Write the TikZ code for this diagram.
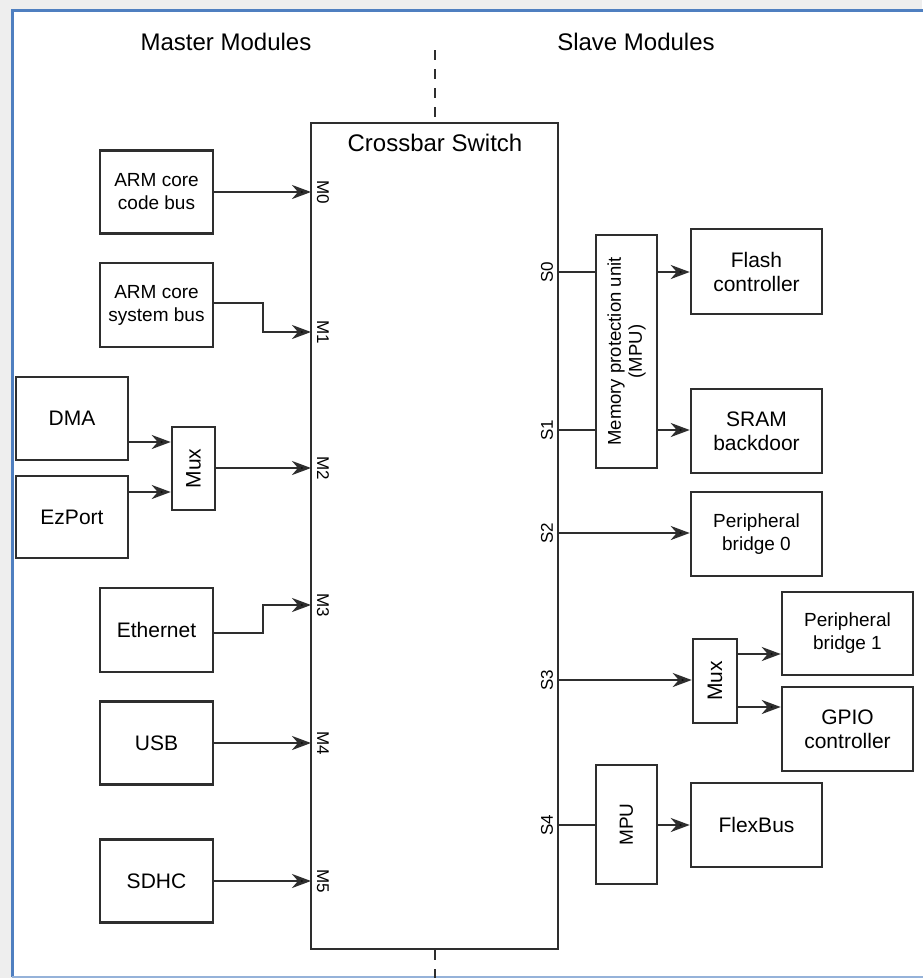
\documentclass[tikz,border=0pt]{standalone}
\usepackage{fontspec}
\setmainfont{Liberation Sans}
\usetikzlibrary{arrows.meta,calc}
\definecolor{frameblue}{HTML}{4F7FC0}
\definecolor{lnc}{HTML}{2E2E2E}
\definecolor{bgray}{HTML}{EEEEEE}
\tikzset{
  blk/.style={draw=lnc, line width=2.5pt, rectangle, inner sep=0pt, align=center, text=black},
  big/.style={font=\fontsize{21}{24}\selectfont},
  sml/.style={font=\fontsize{19}{23}\selectfont},
  conn/.style={draw=lnc, line width=2.5pt},
  arr/.style={conn, -{Stealth[length=19pt,width=14pt,inset=6pt,fill=black]}},
  plabel/.style={font=\fontsize{17}{18}\selectfont, inner sep=0pt, text=black},
  title/.style={font=\fontsize{24}{26}\selectfont, inner sep=0pt, text=black}
}
\begin{document}
\begin{tikzpicture}[x=1pt,y=-1pt]
\useasboundingbox (0,0) rectangle (922,978);
\fill[bgray] (0,0) rectangle (922,978);
\fill[white] (12,10) rectangle (930,977);
\draw[frameblue, line width=3pt] (12,977) -- (12,10) -- (930,10);
\draw[frameblue!60, line width=2pt] (12,977) -- (930,977);

% titles
\node[title] (tmaster) at (226,42) {Master Modules};
\node[title] (tslave) at (636,42) {Slave Modules};

% crossbar
\node[blk, minimum width=247pt, minimum height=826pt] (xbar) at (434.5,536) {};
\node[title, anchor=center] (xtitle) at (435,143) {Crossbar Switch};
\coordinate (dtop) at (435,50);
\coordinate (dbot) at (435,978);
\draw[conn, dash pattern=on 10pt off 9pt] (dtop) -- (dtop |- xbar.north);
\draw[conn, dash pattern=on 10pt off 9pt] (xbar.south -| dbot) -- (dbot);

% master modules
\node[blk, sml, minimum width=113pt, minimum height=83pt] (code) at (156.5,192) {ARM core\\code bus};
\node[blk, sml, minimum width=113pt, minimum height=84pt] (sys) at (156.5,305) {ARM core\\system bus};
\node[blk, big, minimum width=112pt, minimum height=83pt] (dma) at (72,418.5) {DMA};
\node[blk, big, minimum width=112pt, minimum height=82pt] (ez) at (72,517) {EzPort};
\node[blk, big, minimum width=43pt, minimum height=83pt] (mux1) at (193.5,468.5) {};
\node[big, rotate=90, inner sep=0pt] (mux1t) at (mux1.center) {Mux};
\node[blk, big, minimum width=113pt, minimum height=84pt] (eth) at (156.5,630) {Ethernet};
\node[blk, big, minimum width=113pt, minimum height=83pt] (usb) at (156.5,743) {USB};
\node[blk, big, minimum width=113pt, minimum height=83pt] (sdhc) at (156.5,881) {SDHC};

% master ports
\coordinate (m0) at (311,192);
\coordinate (m1) at (311,332);
\coordinate (m2) at (311,468);
\coordinate (m3) at (311,605);
\coordinate (m4) at (311,743);
\coordinate (m5) at (311,881);
\foreach \i in {0,...,5}{
  \node[plabel, rotate=-90] (ml\i) at ($(m\i)+(12,0)$) {M\i};
}
\draw[arr] (code.east) -- (m0);
\draw[arr] (sys.east |- 0,303) -| (263,318) |- (m1);
\draw[arr] (dma.east |- 0,442) -- (mux1.west |- 0,442);
\draw[arr] (ez.east |- 0,492) -- (mux1.west |- 0,492);
\draw[arr] (mux1.east |- m2) -- (m2);
\draw[arr] (eth.east |- 0,633) -| (263,619) |- (m3);
\draw[arr] (usb.east) -- (m4);
\draw[arr] (sdhc.east) -- (m5);

% slave modules
\node[blk, minimum width=61pt, minimum height=233pt] (mpu1) at (626.5,351.5) {};
\node[font=\fontsize{18.5}{21}\selectfont, rotate=90, align=center, inner sep=0pt] (mpu1t) at (mpu1.center) {Memory protection unit\\(MPU)};
\node[blk, big, minimum width=131pt, minimum height=85pt] (flash) at (756.5,271.5) {Flash\\controller};
\node[blk, big, minimum width=131pt, minimum height=84pt] (sram) at (756.5,431) {SRAM\\backdoor};
\node[blk, sml, minimum width=131pt, minimum height=84pt] (pb0) at (756.5,534) {Peripheral\\bridge 0};
\node[blk, minimum width=44pt, minimum height=84pt] (mux2) at (715,681) {};
\node[big, rotate=90, inner sep=0pt] (mux2t) at (mux2.center) {Mux};
\node[blk, sml, minimum width=131pt, minimum height=83pt] (pb1) at (847.5,633.5) {Peripheral\\bridge 1};
\node[blk, big, minimum width=131pt, minimum height=84pt] (gpio) at (847.5,729) {GPIO\\controller};
\node[blk, minimum width=61pt, minimum height=119pt] (mpu2) at (626.5,824.5) {};
\node[sml, rotate=90, inner sep=0pt] (mpu2t) at (mpu2.center) {MPU};
\node[blk, big, minimum width=131pt, minimum height=84pt] (flex) at (756.5,825) {FlexBus};

% slave ports
\coordinate (s0) at (558,272);
\coordinate (s1) at (558,430);
\coordinate (s2) at (558,533);
\coordinate (s3) at (558,680);
\coordinate (s4) at (558,825);
\foreach \i in {0,...,4}{
  \node[plabel, rotate=90] (sl\i) at ($(s\i)+(-11,0)$) {S\i};
}
\draw[conn] (s0) -- (mpu1.west |- s0);
\draw[conn] (s1) -- (mpu1.west |- s1);
\draw[arr] (mpu1.east |- s0) -- (flash.west |- s0);
\draw[arr] (mpu1.east |- s1) -- (sram.west |- s1);
\draw[arr] (s2) -- (pb0.west |- s2);
\draw[arr] (s3) -- (mux2.west |- s3);
\draw[arr] (mux2.east |- 0,654) -- (pb1.west |- 0,654);
\draw[arr] (mux2.east |- 0,707) -- (gpio.west |- 0,707);
\draw[conn] (s4) -- (mpu2.west |- s4);
\draw[arr] (mpu2.east |- s4) -- (flex.west |- s4);
\end{tikzpicture}
\end{document}
